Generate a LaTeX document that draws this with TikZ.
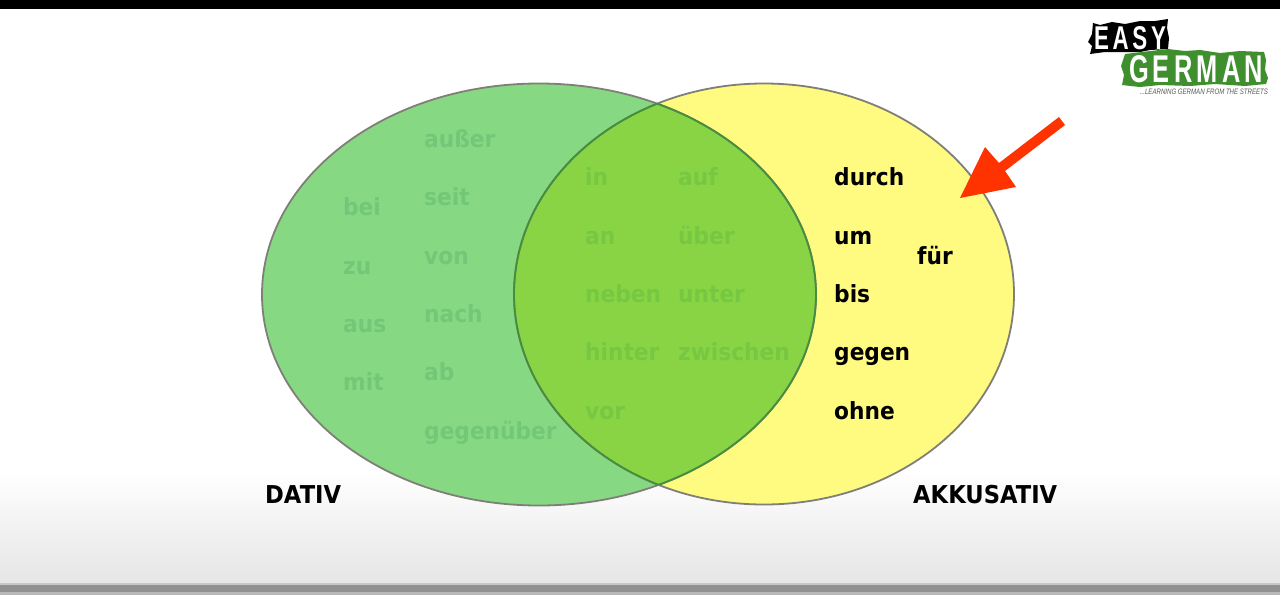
\documentclass[tikz,border=0pt]{standalone}
\usepackage{fontspec}
\usepackage{graphicx}
\setmainfont{DejaVu Sans}[FakeStretch=0.92]
\newfontfamily\logofont{Liberation Sans}
\usetikzlibrary{calc}
\definecolor{greenfill}{HTML}{87D883}
\definecolor{yellowfill}{HTML}{FFFA80}
\definecolor{overlapfill}{HTML}{88D444}
\definecolor{greentext}{HTML}{72C878}
\definecolor{overlaptext}{HTML}{76C842}
\definecolor{outergray}{HTML}{7F7F78}
\definecolor{innergreen}{HTML}{458F3C}
\definecolor{arrowred}{HTML}{FF3300}
\definecolor{logogreen}{HTML}{3F8F2F}
\tikzset{
  x=1pt,y=-1pt,
  word/.style={anchor=west,inner sep=0pt,font=\bfseries\fontsize{23.6}{25}\selectfont,text height=21pt,text depth=5pt},
  dimgreen/.style={word,text=greentext},
  dimover/.style={word,text=overlaptext},
  blackword/.style={word,text=black},
  caselabel/.style={word,font=\bfseries\fontsize{24.6}{25}\selectfont},
  logoword/.style={inner sep=0pt,text=white,font=\logofont\bfseries\fontsize{29}{30}\selectfont},
  vennline/.style={line width=1.8pt}
}
\begin{document}
\begin{tikzpicture}
\useasboundingbox (0,0) rectangle (1280,595);
\fill[white] (0,0) rectangle (1280,595);
\shade[top color=white,bottom color=black!10] (0,470) rectangle (1280,584);
\fill[black] (0,0) rectangle (1280,9);
\fill[black!22] (0,583) rectangle (1280,585);
\fill[black!43] (0,585) rectangle (1280,592);
\fill[black!28] (0,592) rectangle (1280,595);
% venn
\coordinate (gc) at (539,294.5);
\coordinate (yc) at (764,294);
\fill[greenfill] (gc) ellipse [x radius=277,y radius=211];
\fill[yellowfill] (yc) ellipse [x radius=250,y radius=210.5];
\begin{scope}
\clip (gc) ellipse [x radius=277,y radius=211];
\fill[overlapfill] (yc) ellipse [x radius=250,y radius=210.5];
\end{scope}
\draw[outergray,vennline] (gc) ellipse [x radius=277,y radius=211];
\draw[outergray,vennline] (yc) ellipse [x radius=250,y radius=210.5];
\begin{scope}
\clip (gc) ellipse [x radius=277,y radius=211];
\draw[innergreen,vennline] (yc) ellipse [x radius=250,y radius=210.5];
\end{scope}
\begin{scope}
\clip (yc) ellipse [x radius=250,y radius=210.5];
\draw[innergreen,vennline] (gc) ellipse [x radius=277,y radius=211];
\end{scope}
% dative words
\node[dimgreen] (bei) at (343,207) {bei};
\node[dimgreen] (zu) at (343,266) {zu};
\node[dimgreen] (aus) at (343,324) {aus};
\node[dimgreen] (mit) at (343,382) {mit};
\node[dimgreen] (ausser) at (424,139) {außer};
\node[dimgreen] (seit) at (424,197) {seit};
\node[dimgreen] (von) at (424,256) {von};
\node[dimgreen] (nach) at (424,314) {nach};
\node[dimgreen] (ab) at (424,372) {ab};
\node[dimgreen] (gegenueber) at (424,431) {gegenüber};
% overlap words
\node[dimover] (in) at (585,177) {in};
\node[dimover] (an) at (585,236) {an};
\node[dimover] (neben) at (585,294) {neben};
\node[dimover] (hinter) at (585,352) {hinter};
\node[dimover] (vor) at (585,411) {vor};
\node[dimover] (auf) at (678,177) {auf};
\node[dimover] (ueber) at (678,236) {über};
\node[dimover] (unter) at (678,294) {unter};
\node[dimover] (zwischen) at (678,352) {zwischen};
% accusative words
\node[blackword] (durch) at (834,177) {durch};
\node[blackword] (um) at (834,236) {um};
\node[blackword] (bis) at (834,294) {bis};
\node[blackword] (gegen) at (834,352) {gegen};
\node[blackword] (ohne) at (834,411) {ohne};
\node[blackword] (fuer) at (917,256) {für};
\node[caselabel] (dativ) at (265,495) {DATIV};
\node[caselabel] (akk) at (913,495) {AKKUSATIV};
% arrow
\fill[arrowred] (1059,117) -- (1065,125) -- (1005,171) -- (1016,187) -- (960,198) -- (985,147) -- (999,163) -- cycle;
% logo
\fill[black] (1093,23) -- (1100,25) -- (1112,22) -- (1125,24) -- (1140,21) -- (1155,21) -- (1168,19) -- (1167,28) -- (1169,38) -- (1168,49) -- (1150,50) -- (1140,52) -- (1121,52) -- (1105,52) -- (1090,54) -- (1092,46) -- (1088,42) -- (1092,34) -- cycle;
\fill[logogreen] (1125,54) -- (1142,52) -- (1168,49) -- (1185,51) -- (1200,50) -- (1220,53) -- (1240,51) -- (1264,52) -- (1266,60) -- (1265,70) -- (1268,78) -- (1266,84) -- (1245,86) -- (1215,84) -- (1190,86) -- (1160,85) -- (1140,87) -- (1122,85) -- (1124,75) -- (1121,66) -- cycle;
\node[logoword] (easy) at (1130,38) {\resizebox{72pt}{23pt}{E\,A\,S\,Y}};
\node[logoword] (german) at (1196,69) {\resizebox{134pt}{27pt}{G\,E\,R\,M\,A\,N}};
\node[inner sep=0pt,text=black!65,font=\logofont\itshape] (tag) at (1204,91.5) {\resizebox{128pt}{5.5pt}{...LEARNING GERMAN FROM THE STREETS}};
\end{tikzpicture}
\end{document}
